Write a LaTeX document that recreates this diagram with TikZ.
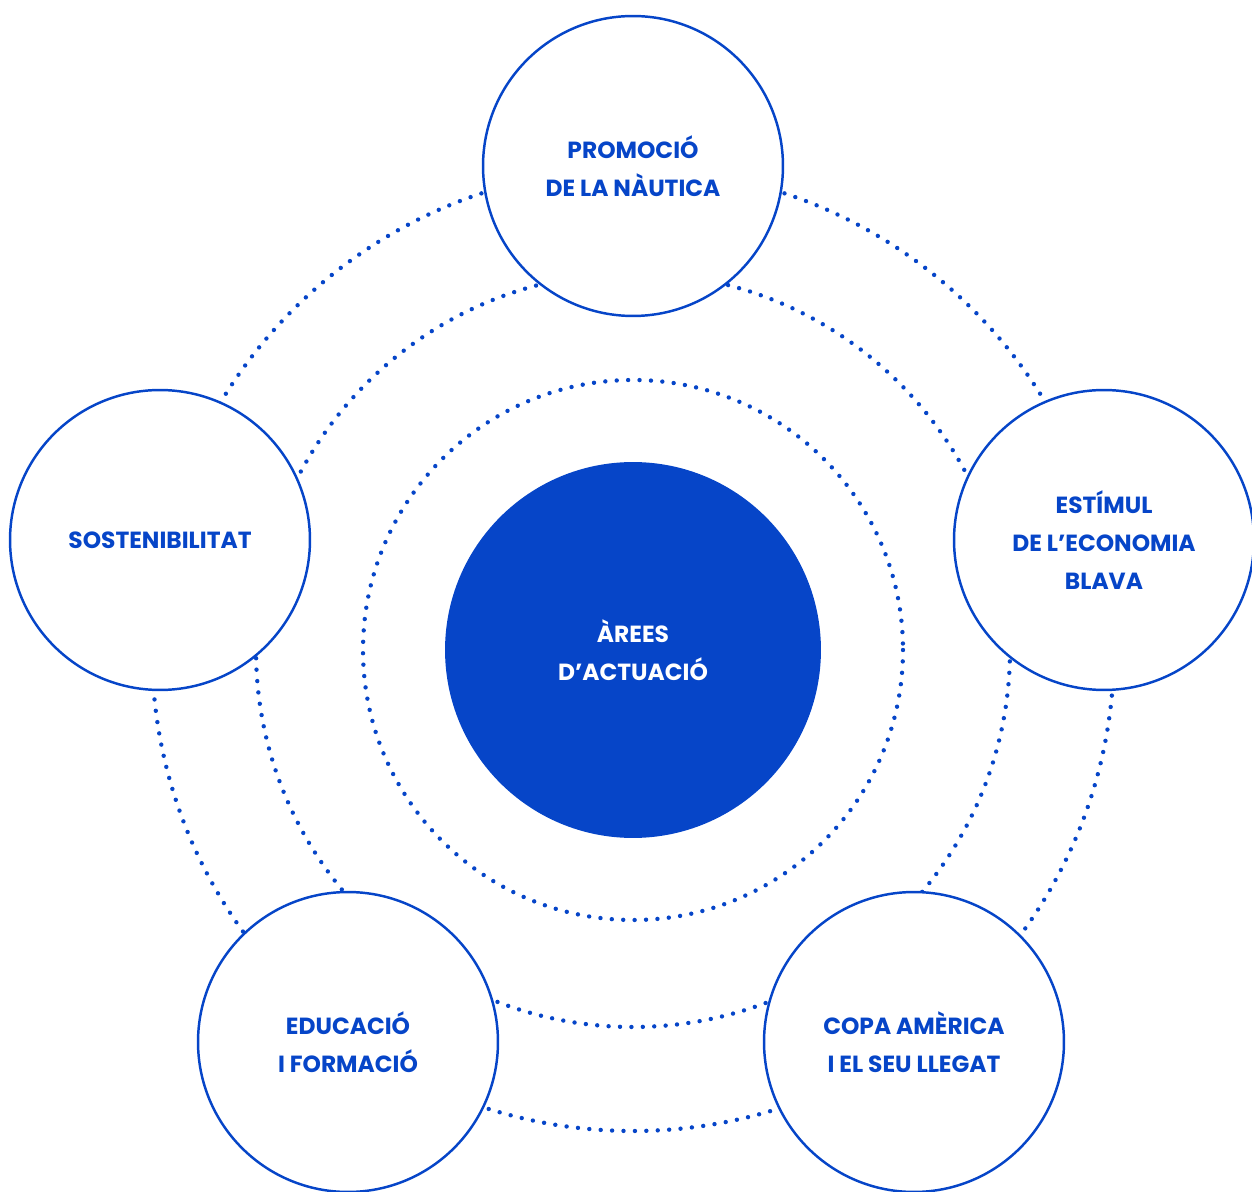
\documentclass[tikz,border=0pt]{standalone}
\usepackage{fontspec}
\setmainfont{Poppins}
\usepackage{tikz}
\definecolor{areablue}{HTML}{0645C8}

\begin{document}
\begin{tikzpicture}[x=0.02cm, y=-0.02cm,
    ring/.style={areablue, line width=2.5pt, line cap=round, dash pattern=on 0pt off 6.5pt},
    area/.style={circle, draw=areablue, line width=1.4pt, fill=white, minimum size=6cm, inner sep=0pt,
      align=center, text=areablue, font=\bfseries\fontsize{13.3}{21.6}\selectfont},
    core/.style={circle, fill=areablue, minimum size=7.52cm, inner sep=0pt,
      align=center, text=white, font=\bfseries\fontsize{13.3}{21.6}\selectfont}]
    \useasboundingbox (0,0) rectangle (1252,1192);
    \coordinate (O) at (633,650);
    \draw[ring] (O) circle[radius=270];
    \draw[ring] (O) circle[radius=377];
    \draw[ring] (O) circle[radius=481];
    \node[core] (A) at (O) {ÀREES\\D’ACTUACIÓ};
    \node[area] (P) at (633,166) {PROMOCIÓ\\DE LA NÀUTICA};
    \node[area] (S) at (160,540) {SOSTENIBILITAT};
    \node[area] (E) at (1104,540) {ESTÍMUL\\DE L’ECONOMIA\\BLAVA};
    \node[area] (F) at (348,1042) {EDUCACIÓ\\I FORMACIÓ};
    \node[area] (C) at (914,1042) {COPA AMÈRICA\\I EL SEU LLEGAT};
  \end{tikzpicture}
\end{document}
